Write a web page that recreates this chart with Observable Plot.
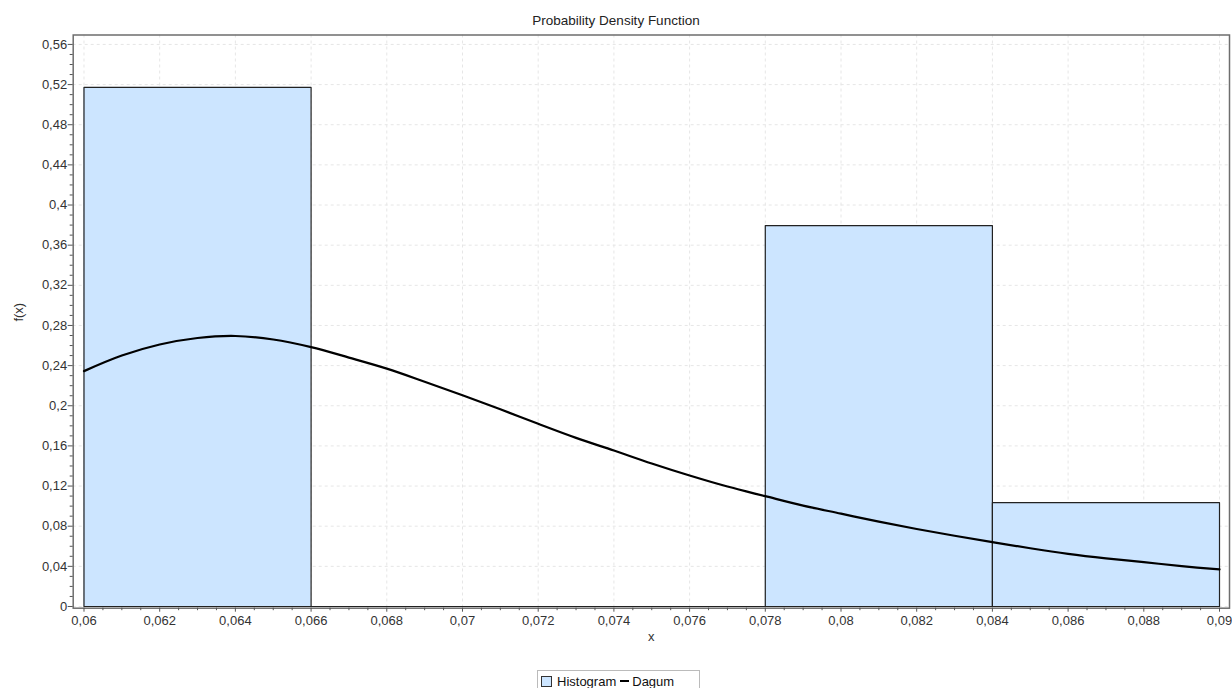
<!DOCTYPE html>
<html>
<head>
<meta charset="utf-8">
<script src="https://cdn.jsdelivr.net/npm/d3@7"></script>
<script src="https://cdn.jsdelivr.net/npm/@observablehq/plot@0.6"></script>
<style>
  body { margin: 0; background: #fff; font-family: "Liberation Sans", Arial, sans-serif; }
  #wrap { position: relative; width: 1232px; height: 688px; }
  #title { height: 30px; line-height: 24px; padding-top: 9px; box-sizing: border-box; text-align: center; font-size: 13.5px; color: #222; }
  #chart svg { display: block; }
  #chart svg text { font-size: 13px !important; }
  #legend { position: absolute; left: 537px; top: 670px; width: 163px; height: 22px; border: 1px solid #bbb; box-sizing: border-box;
            font-size: 13px; color: #111; display: flex; align-items: center; padding-left: 3px; }
  .sw { display: inline-block; width: 9px; height: 9px; background: #cce5ff; border: 1px solid #333; margin-right: 5px; }
  .ln { display: inline-block; width: 9px; height: 2px; background: #000; margin: 0 3px 0 4px; }
</style>
</head>
<body>
<div id="wrap">
  <div id="title">Probability Density Function</div>
  <div id="chart"></div>
  <div id="legend"><span class="sw"></span>Histogram<span class="ln"></span>Dagum</div>
</div>
<script>
// Histogram bins (edges) and densities
const binEdges = [0.060, 0.066, 0.078, 0.084, 0.090];
const binDensity = [0.5172, 0, 0.3795, 0.1034];

// Dagum fitted PDF
const curveX = [0.060, 0.061, 0.062, 0.063, 0.064, 0.065, 0.066, 0.067, 0.068, 0.069, 0.070, 0.071, 0.072, 0.073, 0.074, 0.075,
                0.076, 0.077, 0.078, 0.079, 0.080, 0.081, 0.082, 0.083, 0.084, 0.085, 0.086, 0.087, 0.088, 0.089, 0.090];
const curveY = [0.2345, 0.250, 0.261, 0.2675, 0.2695, 0.266, 0.2584, 0.248, 0.237, 0.224, 0.2105, 0.1965, 0.182, 0.168, 0.1554, 0.1425,
                0.1305, 0.1195, 0.1099, 0.1005, 0.0925, 0.0845, 0.0772, 0.0705, 0.0641, 0.0580, 0.0525, 0.0480, 0.0442, 0.0402, 0.0369];

// Tick values
const xMajor = [0.060, 0.062, 0.064, 0.066, 0.068, 0.070, 0.072, 0.074, 0.076, 0.078, 0.080, 0.082, 0.084, 0.086, 0.088, 0.090];
const yMajor = [0, 0.04, 0.08, 0.12, 0.16, 0.20, 0.24, 0.28, 0.32, 0.36, 0.40, 0.44, 0.48, 0.52, 0.56];

const xMinor = d3.range(0, 61).map(i => +(0.06 + i * 0.0005).toFixed(5)).filter(v => !xMajor.some(m => Math.abs(m - v) < 1e-9));
const yMinor = d3.range(0, 57).map(i => +(i * 0.01).toFixed(3)).filter(v => !yMajor.some(m => Math.abs(m - v) < 1e-9));

const fmt = d => String(+d.toFixed(4)).replace(".", ",");

const bins = binDensity.map((h, i) => ({x0: binEdges[i], x1: binEdges[i + 1], h}));
const outline = bins.flatMap((b, i) => [
  {bin: i, x: b.x0, y: 0}, {bin: i, x: b.x0, y: b.h}, {bin: i, x: b.x1, y: b.h}, {bin: i, x: b.x1, y: 0}, {bin: i, x: b.x0, y: 0}
]);
const curve = curveX.map((x, i) => ({x, y: curveY[i]}));

const chart = Plot.plot({
  width: 1232,
  height: 620,
  marginLeft: 72.7,
  marginRight: 3,
  marginTop: 4.5,
  marginBottom: 42.3,
  style: {fontFamily: "'Liberation Sans', Arial, sans-serif", fontSize: "13px", color: "#333", background: "white"},
  x: {domain: [0.059715, 0.090264]},
  y: {domain: [-0.0017, 0.5694]},
  marks: [
    Plot.gridX(xMajor, {stroke: "#e6e6e6", strokeOpacity: 1, strokeDasharray: "3,3"}),
    Plot.gridY(yMajor, {stroke: "#e6e6e6", strokeOpacity: 1, strokeDasharray: "3,3"}),
    Plot.rect(bins, {x1: "x0", x2: "x1", y1: 0, y2: "h", fill: "#cce5ff"}),
    Plot.line(outline, {x: "x", y: "y", z: "bin", stroke: "#222", strokeWidth: 1.2}),
    Plot.line(curve, {x: "x", y: "y", stroke: "#000", strokeWidth: 2.2, curve: "catmull-rom"}),
    Plot.frame({stroke: "#6e6e6e", strokeWidth: 1.5}),
    Plot.axisX(xMinor, {tickSize: 2.5, text: null, label: null, stroke: "#555"}),
    Plot.axisX(xMajor, {tickSize: 4, tickPadding: 4, tickFormat: fmt, label: null, stroke: "#555"}),
    Plot.axisY(yMinor, {tickSize: 3, text: null, label: null, stroke: "#555"}),
    Plot.axisY(yMajor, {tickSize: 5, tickPadding: 1, tickFormat: fmt, label: null, stroke: "#555"}),
    Plot.text(["f(x)"], {frameAnchor: "left", dx: -54, rotate: -90, fill: "#333"}),
    Plot.text(["x"], {frameAnchor: "bottom", dy: 33, fill: "#333"})
  ]
});
document.getElementById("chart").append(chart);
</script>
</body>
</html>
